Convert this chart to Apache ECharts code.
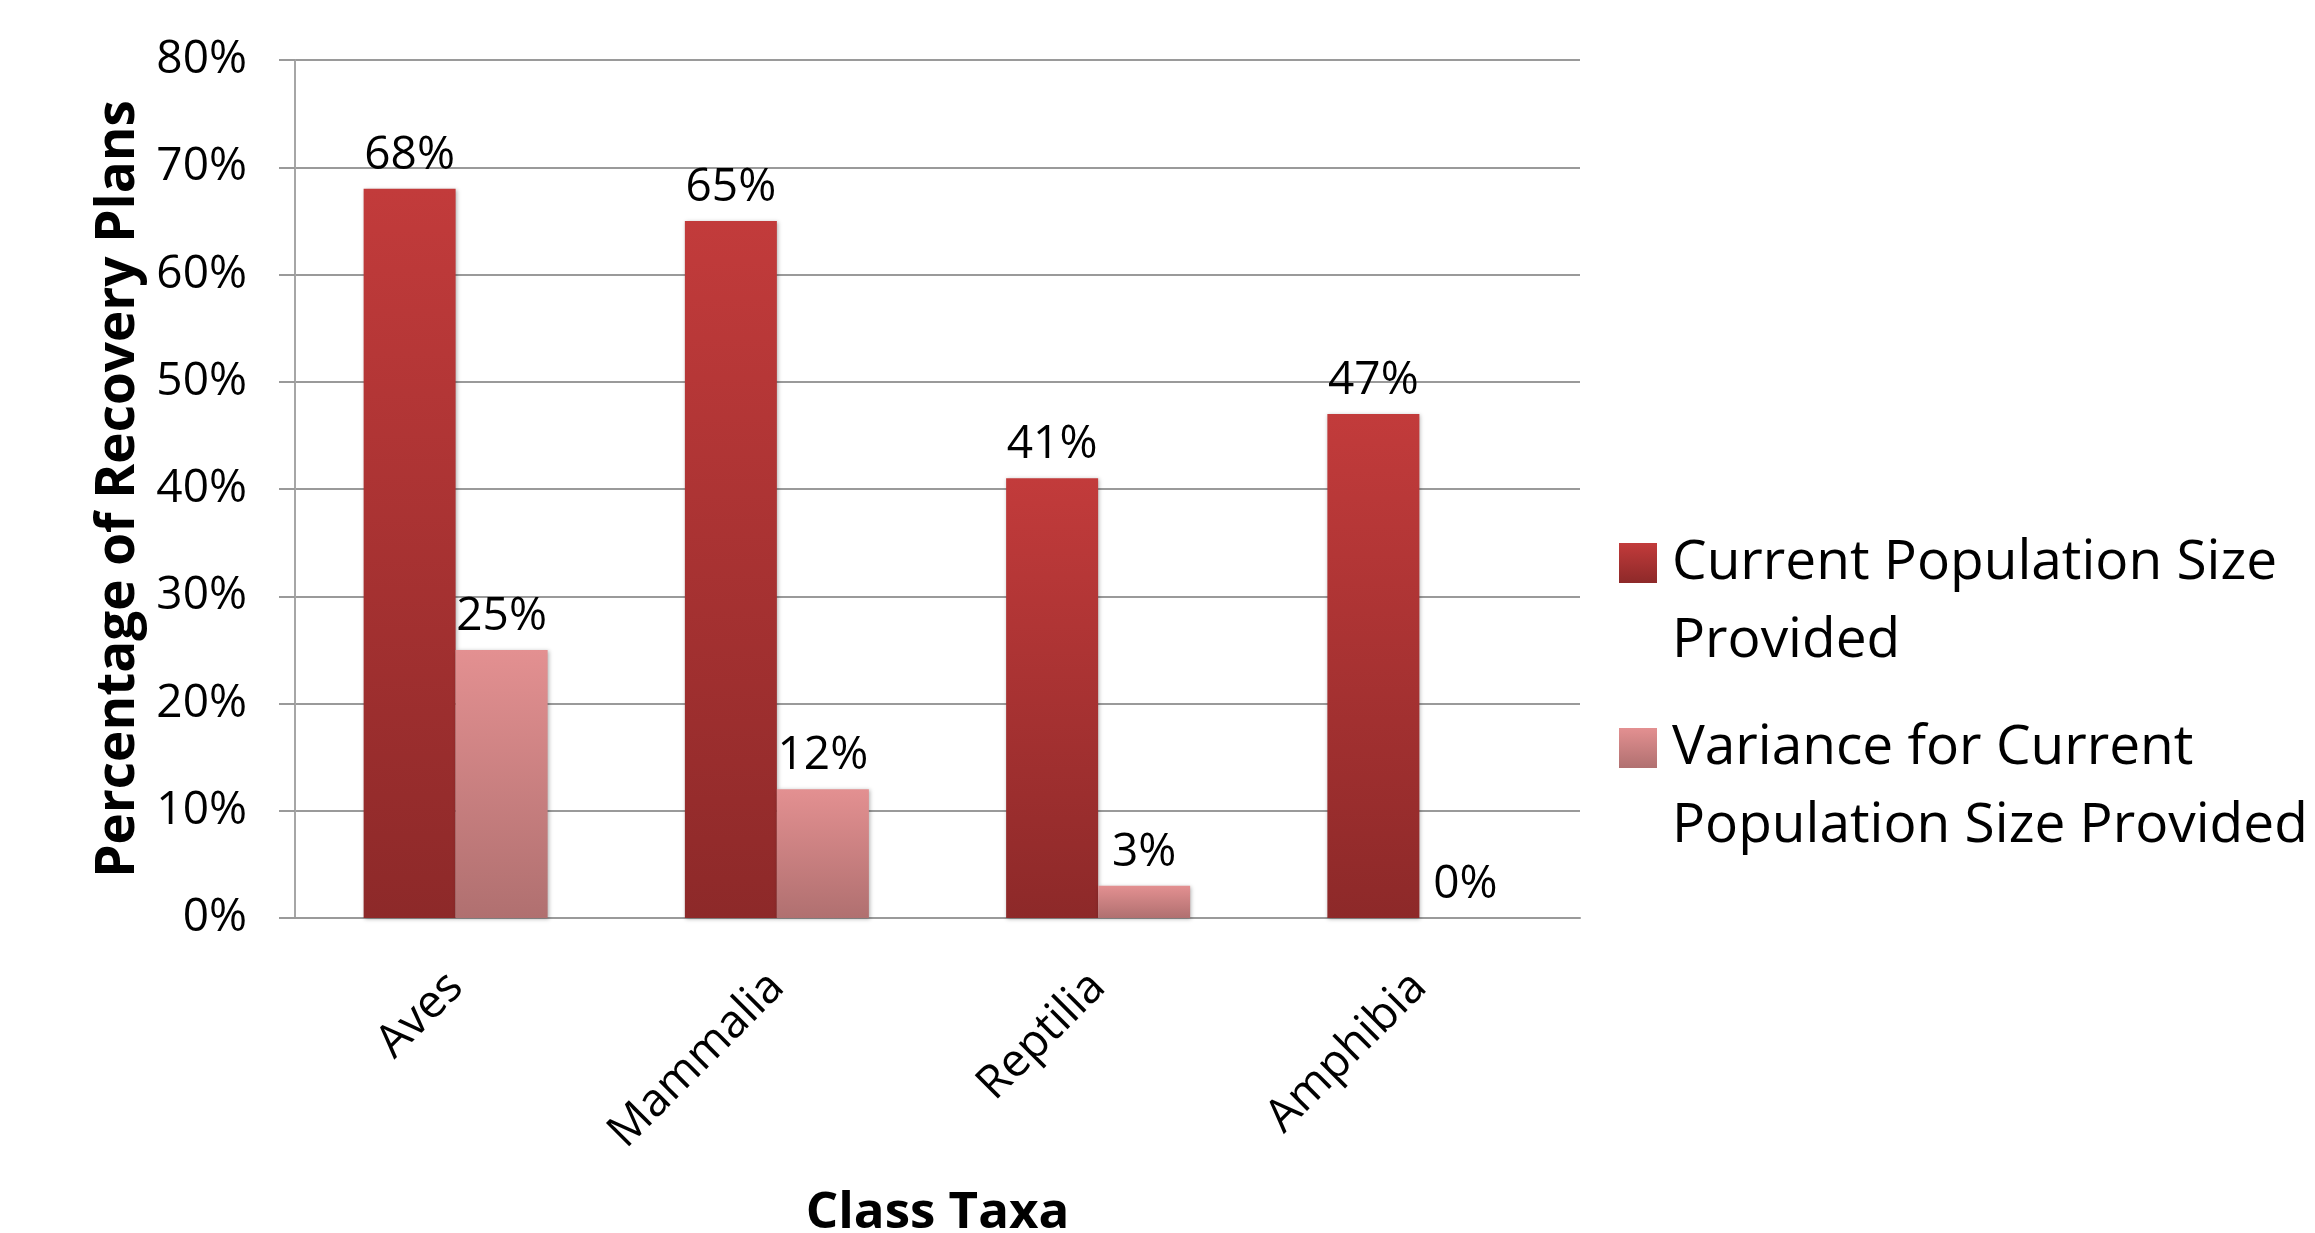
<!DOCTYPE html>
<html>
<head>
<meta charset="utf-8">
<script src="https://cdn.jsdelivr.net/npm/echarts@6/dist/echarts.min.js"></script>
<style>
html,body{margin:0;padding:0;background:#fff;}
#chart{width:2315px;height:1233px;}
</style>
</head>
<body>
<div id="chart"></div>
<script>
const categories = ['Aves', 'Mammalia', 'Reptilia', 'Amphibia'];
const seriesNames = ['Current Population Size Provided', 'Variance for Current Population Size Provided'];
const legendLines = [['Current Population Size', 'Provided'], ['Variance for Current', 'Population Size Provided']];
const currentPop = [68, 65, 41, 47];
const variancePop = [25, 12, 3, 0];
const yTicks = { min: 0, max: 80, interval: 10 };

const FONT = '"Open Sans", "Noto Sans", sans-serif';

function grad(top, bottom) {
  return new echarts.graphic.LinearGradient(0, 0, 0, 1, [
    { offset: 0, color: top },
    { offset: 1, color: bottom }
  ]);
}
const darkColor = grad('#c23b3b', '#8d2929');
const lightColor = grad('#e39091', '#b07070');

const chart = echarts.init(document.getElementById('chart'));

function legendFor(i, iconCenter) {
  return {
    data: [seriesNames[i]],
    left: 1614,
    top: iconCenter - 117,
    orient: 'vertical',
    icon: 'rect',
    itemWidth: 38,
    itemHeight: 40,
    selectedMode: false,
    // leading blank line keeps the first text line level with the icon
    formatter: function () { return ' \n' + legendLines[i].join('\n'); },
    textStyle: {
      fontFamily: FONT,
      fontSize: 55,
      color: '#000',
      lineHeight: 78,
      padding: [0, 0, 0, 10]
    }
  };
}

chart.setOption({
  animation: false,
  backgroundColor: '#fff',
  grid: { left: 295, right: 735, top: 60, bottom: 315, containLabel: false, outerBoundsMode: 'none' },
  legend: [legendFor(0, 558), legendFor(1, 743)],
  xAxis: {
    type: 'category',
    data: categories,
    name: 'Class Taxa',
    nameLocation: 'middle',
    nameGap: 270,
    nameTextStyle: { fontFamily: FONT, fontSize: 51, fontWeight: 'bold', color: '#000' },
    axisLine: { show: true, lineStyle: { color: '#9a9a9a', width: 2 } },
    axisTick: { show: false },
    axisLabel: { rotate: 45, margin: 62, fontFamily: FONT, fontSize: 46, color: '#000' }
  },
  yAxis: {
    type: 'value',
    min: yTicks.min,
    max: yTicks.max,
    interval: yTicks.interval,
    name: 'Percentage of Recovery Plans',
    nameLocation: 'middle',
    nameGap: 150,
    nameTextStyle: { fontFamily: FONT, fontSize: 53, fontWeight: 'bold', color: '#000' },
    axisLine: { show: true, lineStyle: { color: '#a6a6a6', width: 2 } },
    axisTick: { show: true, length: 16, lineStyle: { color: '#9a9a9a', width: 2 } },
    axisLabel: { formatter: '{value}%', margin: 48, fontFamily: FONT, fontSize: 46, color: '#000' },
    splitLine: { show: true, lineStyle: { color: '#9a9a9a', width: 2 } }
  },
  series: [
    {
      name: seriesNames[0],
      type: 'bar',
      data: currentPop,
      barWidth: 92,
      barGap: '0%',
      itemStyle: { color: darkColor, borderWidth: 0, shadowColor: 'rgba(0,0,0,0.3)', shadowBlur: 4, shadowOffsetX: 1, shadowOffsetY: 1 },
      label: { show: true, position: 'top', distance: 10, formatter: '{c}%', fontFamily: FONT, fontSize: 46, color: '#000' }
    },
    {
      name: seriesNames[1],
      type: 'bar',
      data: variancePop,
      barWidth: 92,
      itemStyle: { color: lightColor, borderWidth: 0, shadowColor: 'rgba(0,0,0,0.3)', shadowBlur: 4, shadowOffsetX: 1, shadowOffsetY: 1 },
      label: { show: true, position: 'top', distance: 10, formatter: '{c}%', fontFamily: FONT, fontSize: 46, color: '#000' }
    }
  ]
});
</script>
</body>
</html>
